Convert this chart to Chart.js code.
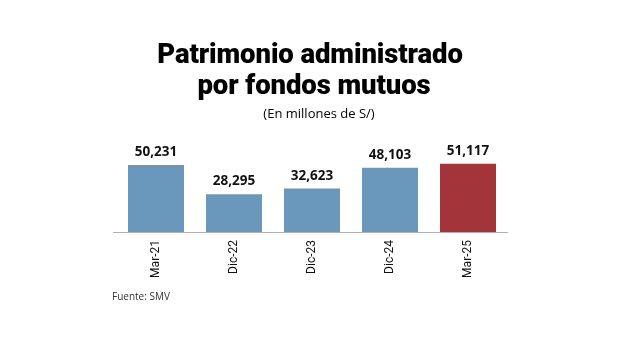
<!DOCTYPE html>
<html>
<head>
<meta charset="utf-8">
<script src="https://cdn.jsdelivr.net/npm/chart.js@4/dist/chart.umd.min.js"></script>
<style>
  html, body { margin: 0; padding: 0; background: #fff; }
  #wrap { position: relative; width: 620px; height: 352px; overflow: hidden; }
  #c { position: absolute; left: 0; top: 0; }
  .t { position: absolute; left: 0; width: 620px; text-align: center; color: #000; white-space: nowrap; }
  #title1, #title2 { font-family: Roboto, sans-serif; font-weight: 900; font-size: 27.5px; line-height: 28px; letter-spacing: -0.1px; }
  #title1 { top: 40px; left: 0px; }
  #title2 { top: 71px; left: 4px; }
  #sub { top: 106px; font-family: "Open Sans", sans-serif; font-size: 13px; line-height: 15px; left: 9px; }
  #src { position: absolute; left: 112px; top: 289px; font-family: "Open Sans", sans-serif; font-size: 10px; color: #333; }
</style>
</head>
<body>
<div id="wrap">
  <canvas id="c" width="620" height="352"></canvas>
  <div class="t" id="title1">Patrimonio administrado</div>
  <div class="t" id="title2">por fondos mutuos</div>
  <div class="t" id="sub">(En millones de S/)</div>
  <div id="src">Fuente: SMV</div>
</div>
<script>
const categories = ["Mar-21", "Dic-22", "Dic-23", "Dic-24", "Mar-25"];
const values = [50231, 28295, 32623, 48103, 51117];
const barColors = ["#6a98bd", "#6a98bd", "#6a98bd", "#6a98bd", "#a3353a"];

const valueLabels = {
  id: "valueLabels",
  afterDatasetsDraw(chart) {
    const ctx = chart.ctx;
    const meta = chart.getDatasetMeta(0);
    const area = chart.chartArea;
    ctx.save();
    // baseline (axis line)
    ctx.strokeStyle = "#b0b0b0";
    ctx.lineWidth = 1;
    ctx.beginPath();
    ctx.moveTo(area.left - 4, Math.round(area.bottom) + 0.5);
    ctx.lineTo(area.right + 1, Math.round(area.bottom) + 0.5);
    ctx.stroke();
    ctx.font = "bold 13.5px 'Open Sans', sans-serif";
    ctx.fillStyle = "#111";
    ctx.textAlign = "center";
    ctx.textBaseline = "alphabetic";
    meta.data.forEach((bar, i) => {
      ctx.fillText(values[i].toLocaleString("en-US"), bar.x, bar.y - 9);
    });
    ctx.restore();
  }
};

new Chart(document.getElementById("c"), {
  type: "bar",
  data: {
    labels: categories,
    datasets: [{
      data: values,
      backgroundColor: barColors,
      borderWidth: 0,
      categoryPercentage: 1,
      barPercentage: 0.718
    }]
  },
  options: {
    responsive: false,
    animation: false,
    devicePixelRatio: 1,
    layout: { padding: { top: 142, left: 117, right: 113, bottom: 60 } },
    plugins: { legend: { display: false }, tooltip: { enabled: false } },
    scales: {
      x: {
        grid: { display: false, drawTicks: false },
        border: { display: false },
        ticks: {
          minRotation: 90, maxRotation: 90, padding: 8,
          color: "#111",
          font: { family: "Roboto, sans-serif", size: 12 }
        },
        afterFit(scale) { scale.height = 60; }
      },
      y: {
        display: false,
        min: 0,
        max: 67500
      }
    }
  },
  plugins: [valueLabels]
});
</script>
</body>
</html>
